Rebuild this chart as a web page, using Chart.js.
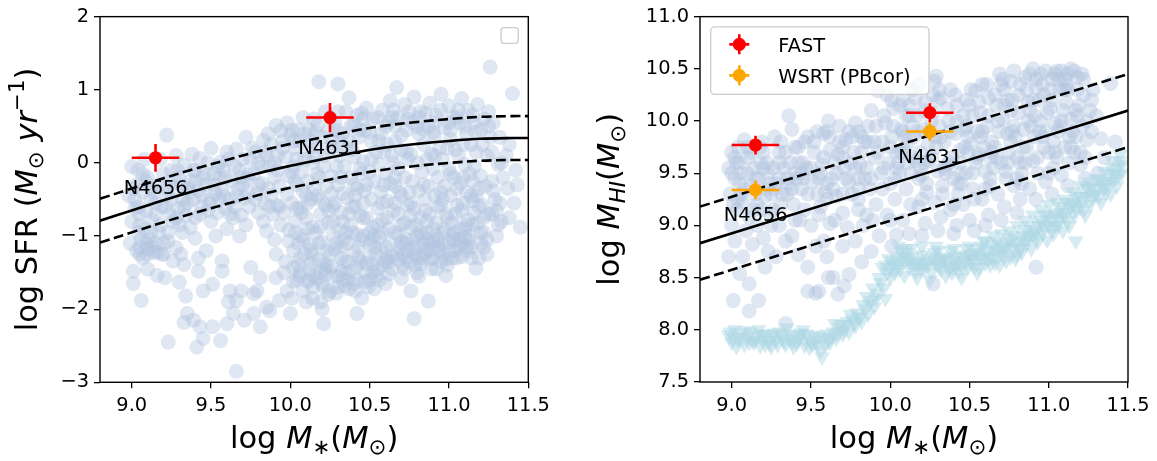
<!DOCTYPE html>
<html><head><meta charset="utf-8">
<script src="https://cdn.jsdelivr.net/npm/chart.js@4.4.1/dist/chart.umd.min.js"></script>
<style>
html,body{margin:0;padding:0;background:#fff;}
#wrap{position:relative;width:1157px;height:461px;overflow:hidden;background:#fff;}
#c1{position:absolute;left:0;top:0;}
#c2{position:absolute;left:580px;top:0;}
</style></head><body>
<div id="wrap"><canvas id="c1" width="580" height="461"></canvas><canvas id="c2" width="577" height="461"></canvas></div>
<script>
// ---------- axis ticks ----------
const massTicks = [9.0, 9.5, 10.0, 10.5, 11.0, 11.5];
const sfrTicks = [-3, -2, -1, 0, 1, 2];
const hiTicks = [7.5, 8.0, 8.5, 9.0, 9.5, 10.0, 10.5, 11.0];

// ---------- star-forming main sequence (left) ----------
const sfmsMass  = [8.8, 9.0, 9.2, 9.4, 9.6, 9.8, 10.0, 10.2, 10.4, 10.6, 10.8, 11.0, 11.2, 11.4, 11.5];
const sfmsMid   = [-0.79, -0.65, -0.51, -0.38, -0.26, -0.14, -0.04, 0.05, 0.14, 0.21, 0.26, 0.30, 0.33, 0.34, 0.34];
const sfmsUpper = [-0.49, -0.35, -0.21, -0.08, 0.04, 0.16, 0.26, 0.35, 0.44, 0.51, 0.56, 0.60, 0.63, 0.64, 0.64];
const sfmsLower = [-1.09, -0.95, -0.81, -0.68, -0.56, -0.44, -0.34, -0.25, -0.16, -0.09, -0.04, 0.00, 0.03, 0.04, 0.04];

// ---------- HI scaling relation (right) ----------
const hiLineMass  = [8.8, 11.5];
const hiLineMid   = [8.83, 10.10];
const hiLineUpper = [9.18, 10.45];
const hiLineLower = [8.48, 9.75];

// ---------- the two galaxies ----------
const galaxyNames   = ['N4656', 'N4631'];
const galaxyMass    = [9.15, 10.25];
const galaxyMassErr = [0.15, 0.15];
const galaxySFR     = [0.07, 0.62];
const galaxySFRErr  = [0.19, 0.20];
const fastHI        = [9.77, 10.08];
const fastHIErr     = [0.09, 0.09];
const wsrtHI        = [9.34, 9.90];
const wsrtHIErr     = [0.09, 0.09];
const legendLabels  = ['FAST', 'WSRT (PBcor)'];

// ---------- comparison sample: log M*, log SFR ----------
const sfrSample = [
[9.0,-0.05],[9.03,-0.3],[8.98,-0.45],[9.02,-0.62],[9.0,-0.8],[9.04,-0.95],[8.99,-1.1],[9.03,-1.2],[9.01,-1.48],[9.01,-1.65],[9.06,-1.88],[9.05,-1.25],[9.05,-0.7],[9.04,-0.1],
[9.08,0.05],[9.1,-0.2],[9.07,-0.4],[9.12,-0.5],[9.09,-0.65],[9.13,-0.78],[9.08,-0.9],[9.11,-1.05],[9.1,-1.17],[9.14,-1.22],[9.07,-1.3],[9.1,-1.45],[9.13,-1.15],[9.12,-0.35],
[9.22,0.38],[9.18,0.05],[9.2,-0.15],[9.17,-0.3],[9.22,-0.45],[9.19,-0.6],[9.24,-0.7],[9.18,-0.85],[9.23,-0.95],[9.2,-1.1],[9.16,-1.22],[9.23,-1.07],[9.16,-1.54],[9.21,-1.57],[9.23,-2.45],[9.24,-0.25],
[9.28,0.1],[9.33,-0.03],[9.3,-0.2],[9.27,-0.35],[9.32,-0.5],[9.29,-0.62],[9.34,-0.72],[9.3,-0.85],[9.28,-1.16],[9.26,-1.34],[9.31,-1.25],[9.33,-1.39],[9.30,-1.63],[9.34,-1.82],[9.33,-2.18],[9.35,-2.06],[9.32,-0.95],
[9.38,0.12],[9.43,0.06],[9.4,-0.1],[9.37,-0.25],[9.42,-0.38],[9.39,-0.5],[9.44,-0.6],[9.4,-0.75],[9.4,-1.03],[9.42,-1.30],[9.42,-1.48],[9.45,-1.75],[9.39,-2.15],[9.43,-2.24],[9.45,-2.40],[9.41,-2.52],[9.37,-0.88],
[9.5,0.2],[9.48,0.0],[9.52,-0.15],[9.47,-0.3],[9.53,-0.42],[9.49,-0.55],[9.54,-0.68],[9.5,-0.8],[9.51,-1.66],[9.51,-2.24],[9.53,-1.0],[9.47,-1.2],
[9.56,0.01],[9.6,0.15],[9.58,-0.1],[9.63,-0.25],[9.57,-0.38],[9.62,-0.5],[9.59,-0.62],[9.64,-0.75],[9.6,-0.9],[9.57,-1.34],[9.57,-1.48],[9.56,-2.43],[9.60,-2.2],[9.62,-1.75],[9.64,-2.06],[9.61,-1.9],
[9.66,0.19],[9.72,0.35],[9.7,0.05],[9.68,-0.1],[9.73,-0.22],[9.67,-0.35],[9.71,-0.48],[9.74,-0.6],[9.69,-0.72],[9.72,-0.85],[9.66,-1.88],[9.69,-1.75],[9.71,-2.15],[9.66,-2.85],[9.75,-1.43],[9.68,-1.0],
[9.83,0.31],[9.78,0.15],[9.8,0.0],[9.77,-0.15],[9.82,-0.28],[9.79,-0.42],[9.84,-0.55],[9.8,-0.68],[9.77,-2.06],[9.79,-1.75],[9.81,-1.57],[9.81,-2.24],[9.77,-1.79],[9.85,-0.93],[9.85,-1.97],[9.83,-0.8],
[9.91,0.51],[9.94,0.44],[9.88,0.25],[9.92,0.1],[9.87,-0.05],[9.9,-0.2],[9.93,-0.32],[9.88,-0.45],[9.92,-0.58],[9.89,-0.7],[9.91,-1.25],[9.91,-1.57],[9.87,-2.02],[9.93,-1.88],[9.94,-0.85],[9.9,-1.05],[9.86,0.4],
[9.98,0.55],[10.0,0.38],[10.03,0.2],[9.97,0.08],[10.02,-0.05],[9.99,-0.18],[10.04,-0.3],[9.98,-0.42],[10.01,-0.55],[9.96,-0.68],[10.03,-0.8],[9.99,-0.92],[9.99,-1.07],[10.02,-1.2],[9.97,-1.35],[10.02,-1.43],[9.98,-1.75],[10.0,-2.06],[10.04,-1.6],[10.01,-1.85],[9.96,-1.5],[10.04,0.05],
[10.08,0.62],[10.12,0.45],[10.06,0.3],[10.1,0.15],[10.14,0.0],[10.07,-0.12],[10.11,-0.25],[10.08,-0.38],[10.13,-0.5],[10.06,-0.62],[10.1,-0.75],[10.14,-0.88],[10.07,-1.0],[10.12,-1.12],[10.09,-1.25],[10.13,-1.38],[10.06,-1.5],[10.11,-1.62],[10.08,-1.75],[10.14,-1.85],[10.1,-0.45],[10.13,0.3],
[10.18,1.11],[10.22,0.7],[10.17,0.52],[10.2,0.35],[10.24,0.2],[10.16,0.08],[10.21,-0.05],[10.18,-0.2],[10.23,-0.32],[10.17,-0.45],[10.22,-0.58],[10.19,-0.7],[10.24,-0.82],[10.16,-0.95],[10.2,-1.08],[10.23,-1.2],[10.18,-1.32],[10.22,-1.45],[10.17,-1.58],[10.21,-1.7],[10.24,-1.8],[10.2,-2.0],[10.21,-2.2],[10.19,-1.9],
[10.30,1.08],[10.28,0.55],[10.33,0.4],[10.27,0.22],[10.31,0.1],[10.34,-0.05],[10.26,-0.18],[10.3,-0.3],[10.33,-0.42],[10.28,-0.55],[10.32,-0.68],[10.27,-0.8],[10.31,-0.92],[10.34,-1.05],[10.28,-1.18],[10.32,-1.3],[10.26,-1.42],[10.3,-1.55],[10.34,-1.68],[10.29,-1.78],[10.33,-1.6],[10.3,0.7],
[10.37,0.89],[10.42,0.65],[10.38,0.5],[10.43,0.35],[10.36,0.2],[10.4,0.08],[10.44,-0.08],[10.38,-0.2],[10.42,-0.35],[10.36,-0.48],[10.41,-0.6],[10.44,-0.72],[10.38,-0.85],[10.42,-0.98],[10.36,-1.1],[10.4,-1.22],[10.44,-1.35],[10.38,-1.48],[10.42,-1.6],[10.37,-1.72],[10.42,-2.06],[10.45,-1.85],[10.4,-0.3],
[10.48,0.75],[10.52,0.6],[10.47,0.45],[10.51,0.3],[10.54,0.15],[10.46,0.02],[10.5,-0.12],[10.53,-0.25],[10.47,-0.38],[10.51,-0.5],[10.55,-0.62],[10.48,-0.75],[10.52,-0.88],[10.46,-1.0],[10.5,-1.12],[10.54,-1.25],[10.48,-1.38],[10.52,-1.5],[10.47,-1.62],[10.53,-1.72],[10.5,-0.95],
[10.58,0.72],[10.62,0.55],[10.57,0.4],[10.61,0.25],[10.64,0.1],[10.56,-0.02],[10.6,-0.15],[10.63,-0.28],[10.57,-0.4],[10.61,-0.52],[10.65,-0.65],[10.58,-0.78],[10.62,-0.9],[10.56,-1.02],[10.6,-1.15],[10.64,-1.28],[10.58,-1.4],[10.62,-1.52],[10.6,-1.65],[10.63,0.85],
[10.67,1.03],[10.72,0.8],[10.68,0.62],[10.73,0.45],[10.66,0.3],[10.7,0.18],[10.74,0.05],[10.68,-0.08],[10.72,-0.2],[10.66,-0.32],[10.7,-0.45],[10.74,-0.58],[10.68,-0.7],[10.72,-0.82],[10.66,-0.95],[10.7,-1.08],[10.74,-1.2],[10.68,-1.32],[10.72,-1.45],[10.7,-1.58],[10.73,-1.3],
[10.78,0.9],[10.82,0.7],[10.77,0.55],[10.81,0.4],[10.84,0.25],[10.76,0.12],[10.8,0.0],[10.83,-0.12],[10.77,-0.25],[10.81,-0.38],[10.85,-0.5],[10.78,-0.62],[10.82,-0.75],[10.76,-0.88],[10.8,-1.0],[10.84,-1.12],[10.78,-1.25],[10.82,-1.38],[10.8,-1.5],[10.76,-1.75],[10.78,-2.13],[10.83,-1.3],
[10.88,0.82],[10.92,0.65],[10.87,0.5],[10.91,0.35],[10.94,0.2],[10.86,0.05],[10.9,-0.08],[10.93,-0.2],[10.87,-0.32],[10.91,-0.45],[10.95,-0.58],[10.88,-0.7],[10.92,-0.82],[10.86,-0.95],[10.9,-1.08],[10.94,-1.2],[10.88,-1.32],[10.92,-1.45],[10.87,-1.89],[10.9,-0.9],
[10.95,0.94],[11.0,0.78],[11.03,0.62],[10.97,0.48],[11.01,0.32],[11.04,0.18],[10.96,0.05],[11.0,-0.08],[11.03,-0.2],[10.97,-0.32],[11.01,-0.45],[11.05,-0.58],[10.98,-0.7],[11.02,-0.82],[10.96,-0.95],[11.0,-1.08],[11.04,-1.2],[10.98,-1.32],[10.98,-1.54],[11.02,-1.0],
[11.08,0.88],[11.12,0.72],[11.07,0.55],[11.11,0.4],[11.14,0.25],[11.06,0.1],[11.1,-0.02],[11.13,-0.15],[11.07,-0.28],[11.11,-0.4],[11.15,-0.52],[11.08,-0.65],[11.12,-0.78],[11.06,-0.9],[11.1,-1.02],[11.14,-1.15],[11.08,-1.28],[11.12,-1.05],
[11.18,0.8],[11.22,0.6],[11.17,0.42],[11.21,0.25],[11.24,0.1],[11.16,-0.05],[11.2,-0.18],[11.23,-0.32],[11.17,-0.45],[11.21,-0.58],[11.25,-0.7],[11.18,-0.82],[11.22,-0.95],[11.17,-1.44],[11.2,-1.1],[11.24,-1.25],
[11.26,1.31],[11.28,0.55],[11.32,0.35],[11.27,0.15],[11.31,-0.02],[11.34,-0.2],[11.28,-0.38],[11.32,-0.55],[11.27,-0.7],[11.31,-0.85],[11.3,-1.0],[11.33,0.0],
[11.4,0.95],[11.38,0.25],[11.42,-0.1],[11.37,-0.35],[11.41,-0.55],[11.45,-0.88],[11.38,-0.75],[11.43,-0.3],
[10.03,-0.25],[10.07,-0.68],[10.05,-1.1],[10.12,-1.45],[10.15,-0.35],[10.19,-0.88],[10.25,-1.25],[10.27,-0.6],[10.29,-0.05],[10.35,-0.95],[10.36,-1.35],[10.39,-0.6],[10.45,-0.15],[10.46,-0.55],[10.49,-1.3],[10.55,-0.85],[10.57,-1.2],[10.59,-0.3],[10.65,0.0],[10.66,-0.55],[10.69,-1.15],[10.75,-0.4],[10.77,-1.05],[10.79,-1.4],[10.85,-0.65],[10.86,-1.18],[10.89,0.12],[10.95,-0.4],[10.96,-1.12],[10.99,-0.75],[11.05,-0.35],[11.06,-1.15],[11.09,-0.55],[11.15,-0.25],[11.16,-0.68],[11.19,-1.3],
[10.02,0.3],[10.16,0.42],[10.26,0.32],[10.4,0.52],[10.5,0.42],[10.6,0.5],[10.7,0.38],[10.8,0.5],[10.9,0.42],[11.0,0.55],[11.1,0.5],[11.2,0.45],
[10.12,-1.6],[10.22,-1.52],[10.32,-1.48],[10.42,-1.42],[10.52,-1.38],[10.62,-1.35],[10.72,-1.1],[10.82,-0.95],[10.92,-1.0],[11.02,-1.3],[11.12,-1.2],
[10.01,0.45],[10.04,-0.62],[10.06,-1.3],[10.09,0.05],[10.11,-0.9],[10.14,-1.7],[10.16,0.22],[10.19,-0.5],[10.21,-1.38],[10.24,0.45],[10.26,-0.42],[10.29,-1.1],[10.31,0.3],[10.33,-0.8],[10.36,-1.6],[10.39,0.18],[10.41,-0.45],[10.43,-1.15],[10.46,0.6],[10.48,-0.3],[10.51,-1.05],[10.54,-1.55],[10.56,0.3],[10.58,-0.55],[10.61,-1.3],[10.64,0.62],[10.66,-0.2],[10.68,-0.98],[10.71,-1.4],[10.73,0.15],[10.76,-0.72],[10.79,-1.18],[10.81,0.62],[10.84,-0.3],[10.86,-1.05],[10.89,-1.45],[10.91,0.55],[10.93,-0.6],[10.96,-1.25],[10.99,0.2],[11.01,-0.15],[11.03,-0.95],[11.06,0.72],[11.09,-0.2],[11.11,-0.85],[11.14,-1.3],[11.16,0.55],[11.19,-0.35],[11.22,-0.75],[11.24,-1.05],[11.26,0.35],[11.29,-0.5],[11.33,-0.8],[11.36,0.1],
[9.02,-0.5],[9.06,-1.05],[9.09,-0.25],[9.12,-0.95],[9.15,-0.55],[9.19,-1.25],[9.22,-0.35],[9.26,-0.8],[9.29,-0.1],[9.33,-0.6],[9.36,-0.4],[9.4,-0.25],[9.44,-0.45],[9.48,-0.65],[9.52,-0.3],[9.55,-0.5],[9.59,-0.2],[9.62,-0.7],[9.66,-0.45],[9.7,-0.3],[9.74,-0.15],[9.78,-0.5],[9.82,-0.05],[9.86,-0.35],[9.9,0.0],[9.93,-0.6],
[10.02,-1.62],[10.05,-1.4],[10.08,-1.05],[10.1,-1.9],[10.13,-1.2],[10.15,-1.55],[10.18,-1.1],[10.2,-1.65],[10.23,-1.4],[10.25,-1.75],[10.27,-1.0],[10.3,-1.7],[10.32,-1.15],[10.35,-1.5],[10.37,-0.7],[10.4,-1.65],[10.43,-1.3],[10.45,-1.05],[10.47,-1.5],[10.5,-1.6],[10.53,-1.15],[10.55,-1.45],[10.58,-0.95],[10.6,-1.35],[10.63,-1.1],[10.67,-1.25],[10.7,-0.85],[10.73,-1.05],[10.75,-1.35],[10.78,-1.15],[10.8,-1.3],[10.83,-1.0],[10.85,-1.25],[10.88,-1.1],[10.9,-1.3],[10.93,-1.15],[10.95,-1.35],[10.97,-0.9],[11.0,-1.2],[11.03,-1.05],[11.05,-1.3],[11.08,-1.1],[11.1,-0.9],[11.13,-1.0],[11.15,-0.85],[11.2,-0.95],
[10.05,0.45],[10.15,0.6],[10.25,0.62],[10.35,0.7],[10.45,0.68],[10.55,0.62],[10.65,0.72],[10.75,0.7],[10.85,0.68],[10.95,0.72],[11.05,0.62],[11.15,0.65],[11.25,0.7],
[9.95,0.2],[9.85,0.1],[9.75,0.05],[9.65,-0.05],[9.55,-0.2],[9.45,-0.2],[9.35,-0.35],[9.25,-0.5],[9.15,-0.7],[9.05,-0.85],[9.1,-1.25],[9.05,-1.15],[9.15,-1.1],[9.2,-1.25],
[10.01,-0.12],[10.03,-0.95],[10.06,-1.55],[10.09,0.4],[10.11,-0.55],[10.14,-1.25],[10.17,-0.15],[10.19,-1.5],[10.22,0.1],[10.24,-0.65],[10.27,-1.55],[10.29,0.45],[10.32,-0.2],[10.34,-1.35],[10.37,0.3],[10.39,-0.95],[10.41,-1.75],[10.44,0.45],[10.46,-0.75],[10.49,-1.7],[10.51,0.05],[10.53,-1.0],[10.56,-1.6],[10.59,0.15],[10.61,-0.75],[10.64,-1.45],[10.66,0.5],[10.69,-0.4],[10.71,-1.25],[10.74,0.6],[10.76,-0.55],[10.79,-0.85],[10.81,-1.55],[10.84,0.45],[10.86,-0.8],[10.88,-1.2],[10.91,0.1],[10.93,-1.05],[10.96,-0.5],[10.99,-1.4],[11.01,0.45],[11.04,-0.7],[11.06,-1.05],[11.09,0.25],[11.11,-1.15],[11.14,-0.45],[11.17,0.15],[11.19,-0.6],[11.22,-1.15],[11.25,0.5],[11.27,-0.25],[11.3,-0.65],
[9.01,-0.35],[9.04,-0.6],[9.07,-0.15],[9.09,-1.1],[9.14,-0.4],[9.17,-0.95],[9.21,-0.6],[9.25,-0.1],[9.28,-0.75],[9.31,-0.3],[9.35,-0.55],[9.39,-0.1],[9.43,-0.7],[9.46,-0.15],[9.5,-0.5],[9.54,-0.05],[9.58,-0.45],[9.61,0.05],[9.65,-0.6],[9.69,-0.2],[9.73,-0.4],[9.76,0.2],[9.8,-0.3],[9.84,0.15],[9.87,-0.6],[9.92,-0.1],[9.95,0.3]
];

// ---------- comparison sample: log M*, log M_HI (detections) ----------
const hiSample = [
[9.0,9.7],[8.98,9.55],[9.02,9.45],[8.99,9.3],[9.03,9.15],[9.0,9.0],[9.02,8.85],[8.98,8.7],[9.01,8.28],[9.03,9.6],[9.04,9.25],
[9.08,9.82],[9.1,9.65],[9.06,9.5],[9.12,9.38],[9.07,9.22],[9.11,9.08],[9.09,8.95],[9.13,8.82],[9.07,8.7],[9.11,8.44],[9.05,8.54],[9.11,8.18],[9.14,9.55],
[9.18,9.75],[9.22,9.6],[9.17,9.45],[9.21,9.28],[9.24,9.12],[9.16,9.0],[9.2,8.88],[9.23,8.75],[9.17,8.28],[9.21,8.6],[9.19,9.15],[9.24,9.4],
[9.27,9.85],[9.3,9.7],[9.33,9.55],[9.28,9.4],[9.32,9.3],[9.26,9.15],[9.3,9.0],[9.34,8.85],[9.28,8.7],[9.34,8.06],[9.31,9.2],
[9.36,10.05],[9.38,9.92],[9.42,9.75],[9.37,9.6],[9.41,9.45],[9.44,9.35],[9.39,9.2],[9.43,9.05],[9.38,8.9],[9.42,8.72],[9.4,9.5],
[9.48,9.85],[9.52,9.7],[9.47,9.55],[9.51,9.42],[9.54,9.3],[9.46,9.15],[9.5,9.0],[9.53,8.8],[9.48,8.6],[9.48,8.37],[9.53,8.35],[9.55,8.37],
[9.61,10.0],[9.58,9.88],[9.62,9.72],[9.57,9.58],[9.63,9.45],[9.59,9.32],[9.56,9.18],[9.62,9.02],[9.58,8.85],[9.64,8.5],[9.61,8.5],[9.6,8.7],
[9.68,9.95],[9.72,9.82],[9.67,9.68],[9.71,9.55],[9.74,9.42],[9.66,9.28],[9.7,9.12],[9.73,8.98],[9.67,8.34],[9.71,8.42],[9.74,8.53],[9.7,8.8],
[9.78,9.98],[9.82,9.85],[9.77,9.7],[9.81,9.58],[9.84,9.45],[9.76,9.3],[9.8,9.15],[9.83,9.0],[9.78,8.85],[9.82,8.65],[9.8,9.9],
[9.92,10.29],[9.88,10.1],[9.91,9.95],[9.86,9.8],[9.9,9.65],[9.94,9.5],[9.87,9.35],[9.91,9.2],[9.89,9.05],[9.93,8.9],[9.88,8.75],
[9.98,10.25],[10.02,10.12],[9.97,9.98],[10.01,9.85],[10.04,9.7],[9.96,9.55],[10.0,9.4],[10.03,9.25],[9.98,9.1],[10.04,8.91],[10.01,8.8],[9.99,9.6],
[10.08,10.2],[10.12,10.05],[10.07,9.92],[10.11,9.78],[10.14,9.65],[10.06,9.5],[10.1,9.35],[10.13,9.2],[10.08,9.05],[10.12,8.92],[10.09,9.72],[10.14,10.3],
[10.18,10.35],[10.22,10.18],[10.17,10.05],[10.21,9.92],[10.24,9.78],[10.16,9.62],[10.2,9.48],[10.23,9.32],[10.18,9.18],[10.22,9.02],[10.2,8.9],[10.19,9.55],
[10.28,10.38],[10.29,10.43],[10.32,10.22],[10.27,10.08],[10.31,9.95],[10.34,9.8],[10.26,9.65],[10.3,9.52],[10.33,9.38],[10.28,9.22],[10.32,9.08],[10.27,8.44],[10.3,8.95],
[10.38,10.3],[10.42,10.15],[10.37,10.0],[10.41,9.88],[10.44,9.72],[10.36,9.58],[10.4,9.45],[10.43,9.3],[10.38,9.15],[10.42,9.0],[10.4,8.92],[10.44,9.6],
[10.54,10.29],[10.48,10.2],[10.52,10.05],[10.47,9.92],[10.51,9.78],[10.55,9.65],[10.48,9.5],[10.52,9.35],[10.46,9.2],[10.5,9.05],[10.53,8.95],[10.49,9.85],
[10.58,10.35],[10.62,10.22],[10.57,10.08],[10.61,9.95],[10.64,9.8],[10.56,9.68],[10.6,9.52],[10.63,9.38],[10.58,9.25],[10.62,9.1],[10.6,9.0],[10.63,9.65],
[10.69,10.45],[10.72,10.3],[10.67,10.15],[10.71,10.02],[10.74,9.88],[10.66,9.75],[10.7,9.6],[10.73,9.45],[10.68,9.3],[10.72,9.18],[10.7,9.05],[10.74,10.2],
[10.78,10.48],[10.82,10.35],[10.77,10.2],[10.81,10.08],[10.84,9.92],[10.76,9.8],[10.8,9.65],[10.83,9.5],[10.78,9.38],[10.82,9.25],[10.8,9.12],[10.76,10.38],
[10.88,10.45],[10.92,10.32],[10.87,10.18],[10.91,10.05],[10.94,9.9],[10.86,9.75],[10.9,9.62],[10.93,9.5],[10.88,9.35],[10.92,9.25],[10.92,8.6],[10.9,10.5],
[10.98,10.48],[11.02,10.4],[10.97,10.25],[11.01,10.12],[11.04,9.98],[10.96,9.85],[11.0,9.7],[11.03,9.55],[10.98,9.42],[11.02,9.3],[11.04,10.45],
[11.08,10.48],[11.12,10.45],[11.07,10.3],[11.11,10.18],[11.14,10.02],[11.06,9.9],[11.1,9.75],[11.13,9.6],[11.08,9.48],[11.12,9.38],[11.1,10.4],
[11.18,10.42],[11.22,10.25],[11.17,10.1],[11.21,9.95],[11.24,9.82],[11.16,9.7],[11.2,9.58],[11.23,9.45],[11.18,10.3],
[11.28,10.3],[11.33,9.83],[11.39,10.36],[11.3,10.05],[11.27,9.9],[11.35,9.65],[11.31,9.5],[11.42,9.8],
[9.95,9.8],[10.05,9.6],[10.15,9.85],[10.25,9.9],[10.35,9.5],[10.45,9.4],[10.55,9.9],[10.65,9.55],[10.75,9.7],[10.85,9.6],[10.95,10.0],[11.05,9.65],[11.15,9.9],[10.1,10.05],[10.3,10.2],[10.5,10.15],[10.7,10.35],[10.9,10.2],[11.1,10.3],
[9.6,9.4],[9.7,9.65],[9.8,9.35],[9.45,9.6],[9.35,9.3],[9.2,9.55],[9.15,9.3],[9.05,9.4],[9.25,9.0],[9.4,9.05],[9.55,9.1],[9.65,9.05],[9.85,9.1],[10.0,9.05],[10.2,9.25],[10.4,9.2],[10.6,9.35],[10.8,9.45],[11.0,9.5],[11.2,9.7],
[9.96,10.05],[10.0,9.75],[10.03,9.45],[10.06,10.15],[10.09,9.85],[10.13,9.5],[10.16,10.22],[10.19,9.7],[10.23,9.4],[10.26,10.0],[10.29,9.75],[10.33,9.3],[10.36,10.12],[10.39,9.65],[10.43,9.4],[10.46,10.05],[10.49,9.7],[10.53,9.25],[10.56,10.18],[10.59,9.75],[10.63,9.45],[10.66,10.25],[10.69,9.9],[10.73,9.52],[10.76,10.1],[10.79,9.85],[10.83,9.4],[10.86,10.3],[10.89,9.95],[10.93,9.65],[10.96,10.35],[10.99,10.08],[11.03,9.8],[11.06,10.4],[11.09,10.1],[11.13,9.85],[11.16,10.48],[11.19,10.15],[11.23,9.65],[11.26,10.1],
[9.02,9.65],[9.06,9.3],[9.1,9.5],[9.14,9.15],[9.18,9.6],[9.22,9.35],[9.26,9.55],[9.3,9.45],[9.34,9.7],[9.38,9.35],[9.42,9.6],[9.46,9.8],[9.5,9.55],[9.54,9.9],[9.58,9.65],[9.62,9.85],[9.66,9.5],[9.7,9.75],[9.74,9.9],[9.78,9.55],[9.82,9.7],[9.86,9.95],[9.9,9.8],
[10.02,9.95],[10.07,9.7],[10.12,10.15],[10.17,9.9],[10.22,9.6],[10.27,10.25],[10.32,9.85],[10.37,9.6],[10.42,10.0],[10.47,9.75],[10.52,9.5],[10.57,9.85],[10.62,10.05],[10.67,9.65],[10.72,10.15],[10.77,9.9],[10.82,9.6],[10.87,10.0],[10.92,10.4],[10.97,9.75],[11.02,10.2],[11.07,9.95],[11.12,10.3],[11.17,9.85],[11.22,10.4],[11.27,10.2],[11.14,10.5],[11.05,10.48],[10.95,10.45],[10.85,10.42],
[9.3,9.6],[9.2,9.7],[9.1,9.75],[9.0,9.5],[9.05,9.6],[9.15,9.45],[9.25,9.3],[9.35,9.45],[9.45,9.45],[9.55,9.45],[9.65,9.6],[9.75,9.6],[9.85,9.55],[9.95,9.35],[9.6,9.25],[9.7,9.3],[9.8,9.25],
[10.01,10.2],[10.04,9.55],[10.08,9.9],[10.11,9.6],[10.14,9.95],[10.18,9.45],[10.21,10.1],[10.24,9.62],[10.28,9.85],[10.31,10.3],[10.34,9.55],[10.38,9.9],[10.41,10.25],[10.44,9.5],[10.48,9.95],[10.51,10.3],[10.54,9.6],[10.58,9.9],[10.61,10.35],[10.64,9.7],[10.68,10.0],[10.71,10.4],[10.74,9.6],[10.78,9.95],[10.81,10.25],[10.84,9.75],[10.88,10.1],[10.91,9.85],[10.94,10.2],[10.98,9.9],[11.01,10.3],[11.04,9.7],[11.08,10.0],[11.11,10.35],[11.14,9.75],[11.18,10.05],[11.21,10.45],[11.24,10.0],
[9.01,9.2],[9.04,9.75],[9.08,9.35],[9.12,9.7],[9.16,9.2],[9.19,9.8],[9.23,9.5],[9.27,9.35],[9.31,9.8],[9.36,9.4],[9.4,9.75],[9.44,9.5],[9.48,9.3],[9.52,9.8],[9.56,9.5],[9.6,9.9],[9.64,9.35],[9.68,9.8],[9.72,9.45],[9.76,9.85],[9.8,9.45],[9.84,9.8],[9.88,9.45],[9.92,9.7]
];

// ---------- comparison sample: log M*, log M_HI upper limits ----------
const hiLimits = [
[8.98,7.95],[9.0,7.88],[9.02,8.0],[9.04,7.9],[9.06,7.97],[9.08,7.86],[9.1,7.93],[9.01,7.92],
[9.12,7.98],[9.14,7.88],[9.16,7.95],[9.18,7.85],[9.2,7.92],[9.13,7.9],[9.17,8.0],
[9.22,7.96],[9.24,7.87],[9.26,7.94],[9.28,7.9],[9.3,7.98],[9.25,7.84],
[9.32,7.92],[9.34,7.86],[9.36,7.96],[9.38,7.88],[9.4,7.94],[9.35,8.02],
[9.42,7.9],[9.44,7.97],[9.46,7.85],[9.48,7.92],[9.5,7.88],[9.45,8.0],
[9.52,7.95],[9.54,7.86],[9.56,7.8],[9.58,7.92],[9.6,7.96],[9.57,7.74],
[9.62,7.88],[9.64,7.98],[9.66,7.92],[9.68,8.02],[9.7,7.96],[9.65,8.06],
[9.72,8.05],[9.74,7.98],[9.76,8.1],[9.78,8.04],[9.8,8.12],[9.75,8.15],
[9.82,8.08],[9.84,8.2],[9.86,8.15],[9.88,8.28],[9.9,8.22],[9.85,8.32],[9.89,8.4],
[9.92,8.35],[9.94,8.45],[9.96,8.4],[9.98,8.55],[10.0,8.5],[9.95,8.6],[9.99,8.68],[9.97,8.3],
[10.02,8.62],[10.04,8.7],[10.06,8.58],[10.08,8.66],[10.1,8.74],[10.03,8.55],[10.07,8.76],[10.09,8.52],
[10.12,8.6],[10.14,8.7],[10.16,8.56],[10.18,8.65],[10.2,8.72],[10.13,8.78],[10.17,8.5],
[10.22,8.6],[10.24,8.68],[10.26,8.55],[10.28,8.74],[10.3,8.63],[10.25,8.48],[10.29,8.8],
[10.32,8.58],[10.34,8.7],[10.36,8.62],[10.38,8.76],[10.4,8.66],[10.35,8.52],[10.39,8.55],
[10.42,8.62],[10.44,8.72],[10.46,8.58],[10.48,8.78],[10.5,8.68],[10.45,8.5],[10.49,8.6],
[10.52,8.64],[10.54,8.74],[10.56,8.6],[10.58,8.8],[10.6,8.7],[10.55,8.55],[10.59,8.85],
[10.62,8.68],[10.64,8.78],[10.66,8.64],[10.68,8.84],[10.7,8.74],[10.65,8.9],[10.69,8.62],
[10.72,8.72],[10.74,8.82],[10.76,8.7],[10.78,8.9],[10.8,8.8],[10.75,8.95],[10.79,8.68],
[10.82,8.78],[10.84,8.9],[10.86,8.82],[10.88,9.0],[10.9,8.9],[10.85,9.05],[10.89,8.78],
[10.92,8.88],[10.94,9.0],[10.96,8.92],[10.98,9.1],[11.0,9.0],[10.95,9.15],[10.99,8.86],
[11.02,8.96],[11.04,9.08],[11.06,9.0],[11.08,9.18],[11.1,9.08],[11.05,9.22],[11.09,8.95],
[11.12,9.05],[11.14,9.18],[11.16,9.1],[11.18,9.28],[11.2,9.18],[11.15,9.32],[11.17,8.85],
[11.22,9.15],[11.24,9.28],[11.26,9.2],[11.28,9.38],[11.3,9.3],[11.25,9.42],
[11.32,9.28],[11.34,9.4],[11.36,9.32],[11.38,9.5],[11.4,9.42],[11.35,9.52],
[11.42,9.45],[11.44,9.56],[11.46,9.5],[11.43,9.38],[11.45,9.62],
[10.01,8.66],[10.05,8.64],[10.11,8.68],[10.15,8.62],[10.19,8.58],[10.21,8.66],[10.27,8.7],[10.31,8.6],[10.33,8.68],[10.37,8.58],[10.41,8.7],[10.43,8.56],[10.47,8.66],[10.51,8.72],[10.53,8.6],[10.57,8.68],[10.61,8.76],[10.63,8.62],[10.67,8.72],[10.71,8.8],[10.73,8.66],[10.77,8.78],[10.81,8.86],[10.83,8.74],[10.87,8.88],[10.91,8.96],[10.93,8.84],[10.97,8.98],[11.01,9.06],[11.03,8.92],[11.07,9.06],[11.11,9.14],[11.13,9.0],[11.17,9.16],[11.21,9.24],[11.23,9.1],[11.27,9.26],[11.31,9.36],[11.33,9.22],[11.37,9.4],[11.41,9.5],[11.39,9.3],
[9.03,7.84],[9.09,7.99],[9.15,7.9],[9.21,7.86],[9.27,7.97],[9.33,7.89],[9.39,7.84],[9.43,7.95],[9.49,7.83],[9.53,7.9],[9.59,7.85],[9.63,7.93],
[8.99,7.98],[9.05,7.93],[9.11,7.88],[9.19,7.96],[9.23,7.9],[9.29,7.86],[9.31,7.95],[9.37,7.91],[9.41,7.87],[9.47,7.96],[9.51,7.86],[9.55,7.94],[9.61,7.9],[9.67,7.97],[9.69,8.05],[9.71,8.0],[9.73,8.08],[9.77,8.06],[9.79,8.16],[9.81,8.12],[9.83,8.24],[9.87,8.25],[9.91,8.3],[9.93,8.5],[9.97,8.62],
[10.0,8.58],[10.04,8.6],[10.08,8.7],[10.12,8.66],[10.16,8.64],[10.2,8.6],[10.24,8.62],[10.28,8.64],[10.32,8.66],[10.36,8.68],[10.4,8.6],[10.44,8.64],[10.48,8.7],[10.52,8.68],[10.56,8.72],[10.6,8.64],[10.64,8.7],[10.68,8.76],[10.72,8.78],[10.76,8.84],[10.8,8.72],[10.84,8.84],[10.88,8.92],[10.92,8.94],[10.96,9.02],[11.0,9.1],[11.04,9.0],[11.08,9.12],[11.12,9.22],[11.16,9.2],[11.2,9.28],[11.24,9.36],[11.28,9.3],[11.32,9.44],[11.36,9.42],[11.4,9.55],[11.44,9.48],[11.46,9.58],
[10.9,9.1],[10.95,9.05],[11.0,9.2],[11.05,9.12],[11.1,9.25],[11.15,9.22],[11.2,9.38],[11.25,9.35],[11.3,9.45],[11.35,9.36],[11.4,9.62],[11.45,9.68],[10.8,9.0],[10.85,8.96],[10.7,8.92],[10.75,8.88],[10.6,8.85],[10.65,8.82],[10.5,8.8],[10.55,8.78],[10.4,8.78],[10.3,8.76],[10.2,8.8],[10.1,8.78],[10.05,8.8]
];

// ================= drawing =================
const FONT = '"DejaVu Sans", "Liberation Sans", sans-serif';
Chart.defaults.font.family = FONT;
Chart.defaults.color = '#000';
const TICK_SIZE = 19.4;
const TITLE_SIZE = 30.5;
const CIRCLE = 'rgba(176,196,222,0.4)';
const TRI = 'rgba(173,216,230,0.5)';

const pts = (xs, ys) => xs.map((x, i) => ({x: x, y: ys[i]}));
const pairs = arr => arr.map(p => ({x: p[0], y: p[1]}));
const fixedTicks = list => (s => { s.ticks = list.map(v => ({value: v})); });

function drawRich(ctx, parts, size, x, y, rotated) {
  ctx.save();
  ctx.translate(x, y);
  if (rotated) ctx.rotate(-Math.PI / 2);
  const fontOf = p => (p.it ? 'italic ' : '') + (size * (p.sc || 1)) + 'px ' + FONT;
  let total = 0;
  parts.forEach(p => { ctx.font = fontOf(p); p.w = ctx.measureText(p.t).width; total += p.w; });
  let cx = -total / 2;
  ctx.fillStyle = '#000'; ctx.textBaseline = 'alphabetic'; ctx.textAlign = 'left';
  parts.forEach(p => { ctx.font = fontOf(p); ctx.fillText(p.t, cx, (p.dy || 0) * size); cx += p.w; });
  ctx.restore();
}

const xTitleParts = () => [{t: 'log '}, {t: 'M', it: 1}, {t: '\u2217', sc: 0.7, dy: 0.2}, {t: '('}, {t: 'M', it: 1}, {t: '\u2299', sc: 0.7, dy: 0.2}, {t: ')'}];
const sfrTitleParts = () => [{t: 'log SFR ('}, {t: 'M', it: 1}, {t: '\u2299', sc: 0.7, dy: 0.2}, {t: ' '}, {t: 'yr', it: 1}, {t: '\u22121', sc: 0.7, dy: -0.42}, {t: ')'}];
const hiTitleParts = () => [{t: 'log '}, {t: 'M', it: 1}, {t: 'HI', it: 1, sc: 0.7, dy: 0.2}, {t: '('}, {t: 'M', it: 1}, {t: '\u2299', sc: 0.7, dy: 0.2}, {t: ')'}];

const errorBarPlugin = {
  id: 'errbars',
  beforeDatasetDraw(chart, args) {
    const ds = chart.data.datasets[args.index];
    if (!ds.xErr) return;
    const ctx = chart.ctx, xs = chart.scales.x, ys = chart.scales.y;
    ctx.save();
    ctx.strokeStyle = ds.errColor; ctx.lineWidth = 2.6; ctx.lineCap = 'butt';
    ds.data.forEach((p, i) => {
      const px = xs.getPixelForValue(p.x), py = ys.getPixelForValue(p.y);
      ctx.beginPath();
      ctx.moveTo(xs.getPixelForValue(p.x - ds.xErr[i]), py);
      ctx.lineTo(xs.getPixelForValue(p.x + ds.xErr[i]), py);
      ctx.moveTo(px, ys.getPixelForValue(p.y - ds.yErr[i]));
      ctx.lineTo(px, ys.getPixelForValue(p.y + ds.yErr[i]));
      ctx.stroke();
    });
    ctx.restore();
  }
};

function frameAndTitles(chart, yParts, yTitleX) {
  const ctx = chart.ctx, ca = chart.chartArea;
  ctx.save();
  ctx.strokeStyle = '#000'; ctx.lineWidth = 1.4;
  ctx.strokeRect(ca.left, ca.top, ca.right - ca.left, ca.bottom - ca.top);
  ctx.restore();
  drawRich(ctx, xTitleParts(), TITLE_SIZE, (ca.left + ca.right) / 2, 448, false);
  drawRich(ctx, yParts, TITLE_SIZE, yTitleX, (ca.top + ca.bottom) / 2, true);
}

function drawLabels(chart, ys) {
  const ctx = chart.ctx, sx = chart.scales.x, sy = chart.scales.y;
  ctx.save();
  ctx.font = TICK_SIZE + 'px ' + FONT; ctx.fillStyle = '#000';
  ctx.textAlign = 'left'; ctx.textBaseline = 'alphabetic';
  galaxyNames.forEach((n, i) => {
    ctx.fillText(n, sx.getPixelForValue(galaxyMass[i] - 0.2), sy.getPixelForValue(ys[i]));
  });
  ctx.restore();
}

function axisOpts(min, max, list, fmt, isX, fitSize) {
  return {
    type: 'linear', min: min, max: max,
    afterBuildTicks: fixedTicks(list),
    afterFit: isX ? (s => { s.height = fitSize; }) : (s => { s.width = fitSize; }),
    ticks: {font: {size: TICK_SIZE, family: FONT}, color: '#000', padding: isX ? 6 : 5, maxRotation: 0, autoSkip: false, callback: fmt},
    grid: {drawOnChartArea: false, drawTicks: true, tickLength: 6, color: '#000', lineWidth: 1.3},
    border: {display: false}
  };
}

const lineDs = (xs, ys, dashed) => ({
  data: pts(xs, ys), showLine: true, borderColor: '#000', borderWidth: 2.6,
  borderDash: dashed ? [10, 4.5] : [], pointRadius: 0, tension: 0.35, fill: false, order: 3
});

// ---------- left panel ----------
new Chart(document.getElementById('c1'), {
  type: 'scatter',
  data: {datasets: [
    {label: 'sample', data: pairs(sfrSample), pointRadius: 7.5, pointBackgroundColor: CIRCLE, pointBorderWidth: 0, order: 5},
    lineDs(sfmsMass, sfmsMid, false),
    lineDs(sfmsMass, sfmsUpper, true),
    lineDs(sfmsMass, sfmsLower, true),
    {label: 'galaxies', data: pts(galaxyMass, galaxySFR), pointRadius: 6.6, pointBackgroundColor: '#ff0000', pointBorderWidth: 0, order: 1,
     xErr: galaxyMassErr, yErr: galaxySFRErr, errColor: '#ff0000'}
  ]},
  options: {
    responsive: false, animation: false, events: [],
    layout: {padding: {left: 0, top: 13.3, right: 51.7, bottom: 0}},
    plugins: {legend: {display: false}, tooltip: {enabled: false}},
    scales: {
      x: axisOpts(8.8, 11.5, massTicks, v => v.toFixed(1), true, 78.7),
      y: axisOpts(-3, 2, sfrTicks, v => (v < 0 ? '\u2212' + Math.abs(v) : String(v)), false, 100)
    }
  },
  plugins: [errorBarPlugin, {
    id: 'leftDecor',
    afterDatasetsDraw(chart) { drawLabels(chart, galaxySFR.map(v => v - 0.5)); },
    afterDraw(chart) {
      frameAndTitles(chart, sfrTitleParts(), 37);
      const ctx = chart.ctx, ca = chart.chartArea;
      ctx.save();
      ctx.strokeStyle = '#cccccc'; ctx.lineWidth = 1.3; ctx.fillStyle = 'rgba(255,255,255,0.8)';
      ctx.beginPath(); ctx.roundRect(ca.right - 27.3, ca.top + 11, 17.3, 15.7, 3); ctx.fill(); ctx.stroke();
      ctx.restore();
    }
  }]
});

// ---------- right panel ----------
new Chart(document.getElementById('c2'), {
  type: 'scatter',
  data: {datasets: [
    {label: 'detections', data: pairs(hiSample), pointRadius: 7.5, pointBackgroundColor: CIRCLE, pointBorderWidth: 0, order: 6},
    {label: 'limits', data: pairs(hiLimits), pointStyle: 'triangle', rotation: 180, pointRadius: 9, pointBackgroundColor: TRI, pointBorderWidth: 0, order: 5},
    lineDs(hiLineMass, hiLineMid, false),
    lineDs(hiLineMass, hiLineUpper, true),
    lineDs(hiLineMass, hiLineLower, true),
    {label: legendLabels[1], data: pts(galaxyMass, wsrtHI), pointRadius: 6.6, pointBackgroundColor: '#ffa500', pointBorderWidth: 0, order: 2,
     xErr: galaxyMassErr, yErr: wsrtHIErr, errColor: '#ffa500'},
    {label: legendLabels[0], data: pts(galaxyMass, fastHI), pointRadius: 6.6, pointBackgroundColor: '#ff0000', pointBorderWidth: 0, order: 1,
     xErr: galaxyMassErr, yErr: fastHIErr, errColor: '#ff0000'}
  ]},
  options: {
    responsive: false, animation: false, events: [],
    layout: {padding: {left: 0, top: 13, right: 29, bottom: 0}},
    plugins: {legend: {display: false}, tooltip: {enabled: false}},
    scales: {
      x: axisOpts(8.8, 11.5, massTicks, v => v.toFixed(1), true, 79),
      y: axisOpts(7.5, 11.0, hiTicks, v => v.toFixed(1), false, 120)
    }
  },
  plugins: [errorBarPlugin, {
    id: 'rightDecor',
    afterDatasetsDraw(chart) { drawLabels(chart, wsrtHI.map(v => v - 0.3)); },
    afterDraw(chart) {
      frameAndTitles(chart, hiTitleParts(), 39);
      const ctx = chart.ctx, ca = chart.chartArea;
      ctx.save();
      ctx.strokeStyle = '#cccccc'; ctx.lineWidth = 1.3; ctx.fillStyle = 'rgba(255,255,255,0.8)';
      ctx.beginPath(); ctx.roundRect(ca.left + 10.7, ca.top + 10.3, 218.3, 67.4, 4); ctx.fill(); ctx.stroke();
      const colors = ['#ff0000', '#ffa500'];
      legendLabels.forEach((lab, i) => {
        const mx = ca.left + 39.3, my = ca.top + 27.7 + i * 31;
        ctx.strokeStyle = colors[i]; ctx.fillStyle = colors[i]; ctx.lineWidth = 2.6;
        ctx.beginPath(); ctx.moveTo(mx - 10, my); ctx.lineTo(mx + 10, my); ctx.moveTo(mx, my - 10); ctx.lineTo(mx, my + 10); ctx.stroke();
        ctx.beginPath(); ctx.arc(mx, my, 6.6, 0, Math.PI * 2); ctx.fill();
        ctx.fillStyle = '#000'; ctx.font = TICK_SIZE + 'px ' + FONT; ctx.textAlign = 'left'; ctx.textBaseline = 'alphabetic';
        ctx.fillText(lab, ca.left + 78.3, my + 7.3);
      });
      ctx.restore();
    }
  }]
});
</script>
</body></html>
